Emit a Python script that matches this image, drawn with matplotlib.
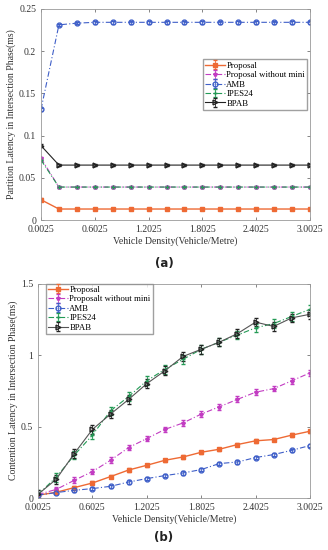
import numpy as np
import matplotlib.pyplot as plt

plt.rcParams['font.family'] = ['Liberation Serif', 'DejaVu Serif']
plt.rcParams['mathtext.fontset'] = 'stix'

density = [0.0025, 0.2025, 0.4025, 0.6025, 0.8025, 1.0025, 1.2025, 1.4025,
           1.6025, 1.8025, 2.0025, 2.2025, 2.4025, 2.6025, 2.8025, 3.0025]
xticks = [0.0025, 0.6025, 1.2025, 1.8025, 2.4025, 3.0025]

# (a) partition latency
part_proposal = [0.024] + [0.013] * 15
part_nomini = [0.073] + [0.039] * 15
part_amb = [0.131, 0.231, 0.233] + [0.234] * 13
part_ipes = [0.071] + [0.039] * 15
part_bpab = [0.088] + [0.065] * 15

# (b) contention latency
cont_proposal = [0.02, 0.04, 0.073, 0.105, 0.15, 0.196, 0.229, 0.264,
                 0.287, 0.32, 0.341, 0.374, 0.40, 0.409, 0.44, 0.467]
cont_nomini = [0.025, 0.06, 0.124, 0.185, 0.264, 0.353, 0.416, 0.48,
               0.525, 0.587, 0.638, 0.69, 0.74, 0.765, 0.82, 0.875]
cont_amb = [0.02, 0.038, 0.054, 0.066, 0.082, 0.112, 0.136, 0.157,
            0.175, 0.199, 0.241, 0.252, 0.283, 0.304, 0.334, 0.367]
cont_ipes = [0.025, 0.145, 0.30, 0.44, 0.61, 0.71, 0.82, 0.90,
             0.97, 1.04, 1.09, 1.14, 1.19, 1.22, 1.27, 1.32]
cont_bpab = [0.026, 0.131, 0.311, 0.48, 0.587, 0.69, 0.80, 0.89,
             0.99, 1.04, 1.09, 1.15, 1.23, 1.20, 1.26, 1.285]

c_or = '#EE6A34'
c_mg = '#C23CC2'
c_bl = '#3F5FC8'
c_gr = '#239A55'
c_bk = '#222222'

styles = [
    dict(color=c_or, ls='-', marker='s', ms=2.5, mfc=c_or, lw=1.0),
    dict(color=c_mg, ls=(0, (5, 2, 1, 2)), marker='*', ms=3, mfc=c_mg, lw=0.8),
    dict(color=c_bl, ls=(0, (5, 2, 1, 2)), marker='o', ms=3.5, mfc='none', lw=0.8),
    dict(color=c_gr, ls=(0, (5, 2, 1, 2)), marker='+', ms=3.5, lw=0.8),
    dict(color=c_bk, ls='-', marker='>', ms=3.5, mfc='none', lw=0.8),
]

fig = plt.figure(figsize=(3.28, 5.5), dpi=100)
ax1 = fig.add_axes([0.125, 0.6, 0.82, 0.384])
ax2 = fig.add_axes([0.116, 0.0945, 0.829, 0.39])

x = np.array(density)

names_a = ['Proposal', 'Proposal without mini', 'AMB', 'IPES24', 'BPAB']
series_a = [part_proposal, part_nomini, part_amb, part_ipes, part_bpab]
for name, ys, st in zip(names_a, series_a, styles):
    ax1.errorbar(x, ys, yerr=0.0015, capsize=1.2, elinewidth=0.6, label=name, **st)

names_b = ['Proposal', 'Proposalt without mini', 'AMB', 'IPES24', 'BPAB']
series_b = [cont_proposal, cont_nomini, cont_amb, cont_ipes, cont_bpab]
errs_b = [0.012, 0.02, 0.012, 0.03, 0.03]
for name, ys, st, e in zip(names_b, series_b, styles, errs_b):
    st = dict(st)
    if name == 'BPAB':
        st['color'] = '#555555'
        st['mec'] = c_bk
    ax2.errorbar(x, ys, yerr=e, capsize=1.2, elinewidth=0.6, ecolor=st['color'] if name != 'BPAB' else c_bk,
                 label=name, **st)

for ax in (ax1, ax2):
    ax.set_xlim(0.0025, 3.0025)
    ax.set_xticks(xticks)
    ax.set_xticklabels(['%.4f' % t for t in xticks])
    ax.tick_params(direction='in', labelsize=7, length=2.5, top=True, right=True,
                   colors='#555555', labelcolor='#333333', width=0.5)
    for s in ax.spines.values():
        s.set_color('#999999')
        s.set_linewidth(0.6)
    ax.set_xlabel('Vehicle Density(Vehicle/Metre)', fontsize=7, color='#333333', labelpad=2)

ax1.set_ylim(0, 0.25)
ax1.set_yticks([0, 0.05, 0.1, 0.15, 0.2, 0.25])
ax1.set_yticklabels(['0', '0.05', '0.1', '0.15', '0.2', '0.25'])
ax1.set_ylabel('Partition Latency in Intersection Phase(ms)', fontsize=7, color='#333333', labelpad=2)
ax1.legend(loc='upper right', bbox_to_anchor=(0.99, 0.76), fontsize=6.3, frameon=True,
           fancybox=False, edgecolor='#888888', handlelength=2.2, handletextpad=0.2,
           labelspacing=0.15, borderpad=0.25, borderaxespad=0)

ax2.set_ylim(0, 1.5)
ax2.set_yticks([0, 0.5, 1, 1.5])
ax2.set_yticklabels(['0', '0.5', '1', '1.5'])
ax2.set_ylabel('Contention Latency in Intersection Phase(ms)', fontsize=7, color='#333333', labelpad=2)
ax2.legend(loc='upper left', bbox_to_anchor=(0.03, 1.0), fontsize=6.3, frameon=True,
           fancybox=False, edgecolor='#888888', handlelength=2.2, handletextpad=0.2,
           labelspacing=0.15, borderpad=0.25, borderaxespad=0)

fig.text(0.5, 1 - 263 / 550, '(a)', ha='center', va='center', fontsize=8.5,
         fontweight='bold', family='DejaVu Sans', color='#222222')
fig.text(0.5, 1 - 537 / 550, '(b)', ha='center', va='center', fontsize=8.5,
         fontweight='bold', family='DejaVu Sans', color='#222222')

fig.savefig('out.png', dpi=100)
